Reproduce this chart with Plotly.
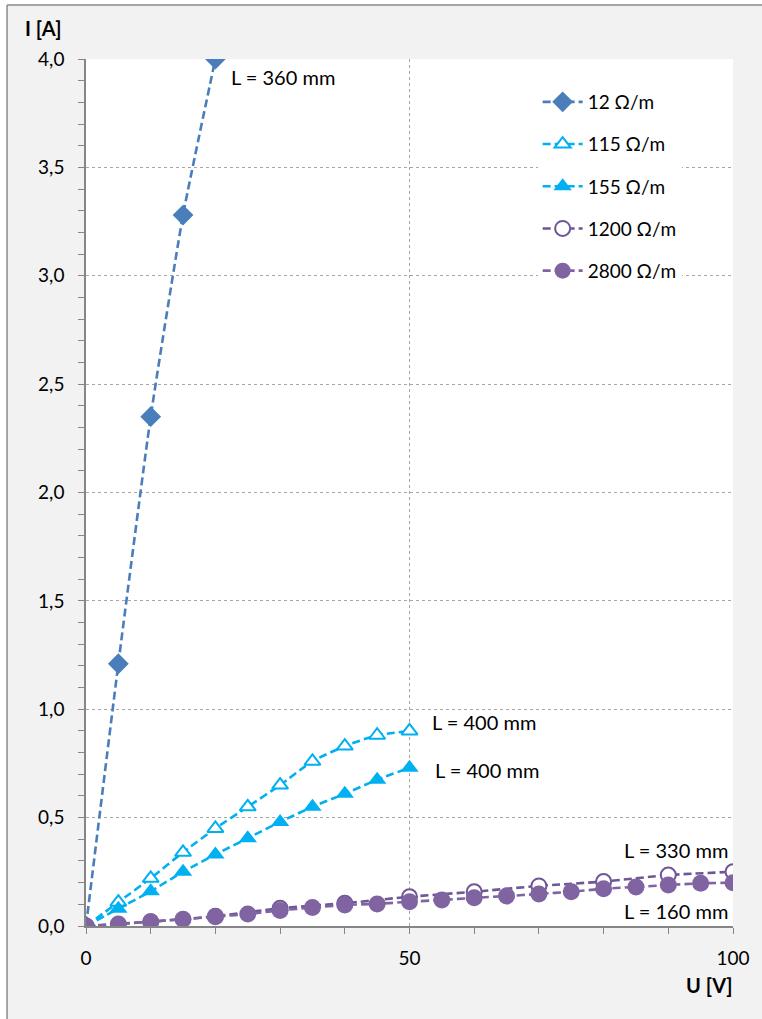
import plotly.graph_objects as go

# ---- data ----
u_12 = [0, 5, 10, 15, 20]
i_12 = [0, 1.21, 2.35, 3.28, 4.0]

u_115 = [0, 5, 10, 15, 20, 25, 30, 35, 40, 45, 50]
i_115 = [0, 0.11, 0.22, 0.34, 0.45, 0.55, 0.65, 0.76, 0.83, 0.88, 0.90]

u_155 = [0, 5, 10, 15, 20, 25, 30, 35, 40, 45, 50]
i_155 = [0, 0.08, 0.16, 0.25, 0.33, 0.405, 0.48, 0.55, 0.61, 0.675, 0.73]

u_1200 = [0, 10, 20, 30, 40, 50, 60, 70, 80, 90, 100]
i_1200 = [0, 0.02, 0.045, 0.082, 0.105, 0.135, 0.158, 0.185, 0.205, 0.235, 0.25]

u_2800 = [0, 5, 10, 15, 20, 25, 30, 35, 40, 45, 50, 55, 60, 65, 70, 75, 80, 85, 90, 95, 100]
i_2800 = [0, 0.009, 0.02, 0.031, 0.043, 0.055, 0.072, 0.085, 0.097, 0.102, 0.112,
          0.12, 0.13, 0.138, 0.148, 0.158, 0.172, 0.18, 0.189, 0.197, 0.2]

series_names = ["12 Ω/m", "115 Ω/m", "155 Ω/m", "1200 Ω/m", "2800 Ω/m"]
length_labels = ["L = 360 mm", "L = 400 mm", "L = 400 mm", "L = 330 mm", "L = 160 mm"]
x_ticks = [0, 50, 100]

FONT = "Lato"
BLUE = "#4a7ebb"
CYAN = "#00b0f0"
PURPLE = "#8064a2"
PURPLE_D = "#6f5697"
DASH = "8px,4px"

fig = go.Figure()

def add(x, y, name, color, symbol, size, mfill, mline_w, lcolor=None):
    fig.add_trace(go.Scatter(
        x=x, y=y, name=name, mode="lines+markers",
        legendgroup=name,
        line=dict(color=lcolor or color, width=2.6, dash=DASH, shape="spline", smoothing=0.5),
        marker=dict(symbol=symbol, size=size, color=mfill,
                    line=dict(color=color, width=mline_w)),
    ))

add(u_12, i_12, series_names[0], BLUE, "diamond", 16, BLUE, 0)
add(u_115, i_115, series_names[1], CYAN, "triangle-up", 14, "white", 2)
add(u_155, i_155, series_names[2], CYAN, "triangle-up", 16, CYAN, 0)
add(u_1200, i_1200, series_names[3], PURPLE_D, "circle", 15, "white", 2, lcolor=PURPLE_D)
add(u_2800, i_2800, series_names[4], PURPLE, "circle", 17, PURPLE, 0)

# plot-area geometry in pixels: left 86, right 733.5, top 59, bottom 926
W, H = 762, 1019
L, R, T, B = 86, 762 - 733.5, 59, 1019 - 926
pw, ph = W - L - R, H - T - B
def px(xp):
    return (xp - L) / pw
def py(yp):
    return (H - B - yp) / ph

# length annotations (data coordinates)
ann_pos = [(22.1, 3.917, "left"), (53.1, 0.941, "left"), (53.6, 0.72, "left"),
           (99.6, 0.351, "right"), (99.6, 0.069, "right")]
annotations = []
for (ax_, ay_, anc), txt in zip(ann_pos, length_labels):
    annotations.append(dict(x=ax_, y=ay_, xref="x", yref="y", text=txt, showarrow=False,
                            xanchor=anc, yanchor="middle",
                            font=dict(family=FONT, size=20, color="black")))
annotations.append(dict(x=px(23), y=py(28), xref="paper", yref="paper", text="<b>I [A]</b>",
                        showarrow=False, xanchor="left", yanchor="middle",
                        font=dict(family=FONT, size=20, color="black")))
annotations.append(dict(x=px(736), y=py(985), xref="paper", yref="paper", text="<b>U [V]</b>",
                        showarrow=False, xanchor="right", yanchor="middle",
                        font=dict(family=FONT, size=20, color="black")))

GRID = "#a6a6a6"
AXIS = "#868686"

shapes = [
    dict(type="rect", xref="paper", yref="paper", x0=px(-5), x1=px(7), y0=py(1030), y1=py(-5),
         fillcolor="white", line=dict(width=0), layer="below"),
    dict(type="rect", xref="paper", yref="paper", x0=px(-5), x1=px(770), y0=py(5), y1=py(-5),
         fillcolor="white", line=dict(width=0), layer="below"),
    dict(type="line", xref="paper", yref="paper", x0=px(7), x1=px(7), y0=py(5), y1=py(1030),
         line=dict(color="#8a8a8a", width=1.5)),
    dict(type="line", xref="paper", yref="paper", x0=px(7), x1=px(770), y0=py(5), y1=py(5),
         line=dict(color="#8a8a8a", width=1.5)),
]

fig.update_layout(
    width=W, height=H,
    margin=dict(l=L, r=R, t=T, b=B, autoexpand=False),
    paper_bgcolor="#f2f2f2", plot_bgcolor="white",
    separators=", ",
    font=dict(family=FONT, size=19, color="black"),
    showlegend=True,
    legend=dict(x=px(538), y=py(83), xanchor="left", yanchor="top",
                bgcolor="white", borderwidth=0, tracegroupgap=14.5, itemwidth=40,
                font=dict(family=FONT, size=19, color="black")),
    annotations=annotations,
    shapes=shapes,
    xaxis=dict(range=[0, 100], tickvals=x_ticks, ticks="outside", ticklen=6, tickcolor=AXIS,
               showline=True, linecolor=AXIS, linewidth=1.5, zeroline=False,
               showgrid=True, gridcolor=GRID, griddash="dot", gridwidth=1,
               minor=dict(dtick=10, ticks="outside", ticklen=6, tickcolor=AXIS, showgrid=False),
               ticklabelstandoff=8, tickfont=dict(family=FONT, size=19)),
    yaxis=dict(range=[0, 4], dtick=0.5, tickformat=".1f", ticks="outside", ticklen=6, tickcolor=AXIS,
               showline=True, linecolor=AXIS, linewidth=1.5, zeroline=False,
               showgrid=True, gridcolor=GRID, griddash="dot", gridwidth=1,
               minor=dict(dtick=0.1, ticks="outside", ticklen=6, tickcolor=AXIS, showgrid=False),
               ticklabelstandoff=10, tickfont=dict(family=FONT, size=19)),
)

fig.write_html("out.html")
